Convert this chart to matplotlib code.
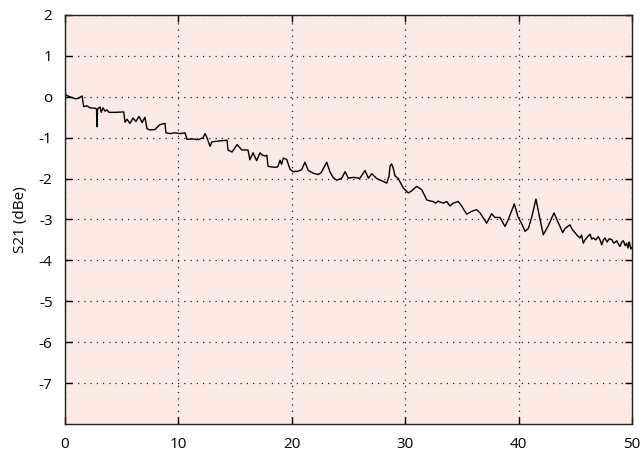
import matplotlib
matplotlib.use("Agg")
import matplotlib.pyplot as plt

freq = [0.03, 0.05, 0.26, 0.62, 0.97, 1.23, 1.5, 1.65, 1.94, 2.2, 2.65, 2.78, 2.82, 2.87,
        3.09, 3.2, 3.35, 3.53, 3.7, 3.88, 4.4, 5.18, 5.29, 5.47, 5.73, 6.0, 6.26, 6.53,
        6.8, 7.05, 7.23, 7.5, 7.94, 8.2, 8.38, 8.82, 8.9, 9.26, 9.7, 10.14, 10.58, 10.76,
        11.29, 11.73, 12.17, 12.35, 12.52, 12.79, 12.96, 13.67, 14.29, 14.37, 14.73,
        15.17, 15.6, 16.14, 16.3, 16.58, 16.9, 17.2, 17.37, 17.64, 17.8, 17.9, 18.34,
        18.7, 18.78, 18.96, 19.1, 19.25, 19.55, 19.7, 19.84, 20.1, 20.55, 20.87, 21.16,
        21.45, 21.9, 22.34, 22.6, 23.08, 23.37, 23.66, 23.96, 24.4, 24.7, 24.98, 25.42,
        26.0, 26.46, 26.75, 27.05, 27.49, 28.07, 28.37, 28.57, 28.66, 28.8, 28.95, 29.1,
        29.39, 29.83, 30.27, 30.57, 31.01, 31.46, 31.9, 32.1, 32.45, 32.7, 32.9, 33.07,
        33.36, 33.66, 33.95, 34.24, 34.68, 34.98, 35.42, 35.86, 36.3, 36.6, 37.18,
        37.62, 37.92, 38.36, 38.8, 39.09, 39.62, 39.97, 40.27, 40.56, 40.86, 41.15,
        41.53, 41.89, 42.18, 42.33, 42.62, 43.12, 43.5, 43.89, 44.09, 44.53, 44.75,
        45.0, 45.2, 45.41, 45.55, 45.71, 45.85, 46.0, 46.15, 46.3, 46.45, 46.59, 46.8,
        47.03, 47.18, 47.33, 47.48, 47.62, 47.8, 48.0, 48.21, 48.4, 48.65, 48.8, 48.94,
        49.1, 49.24, 49.4, 49.53, 49.65, 49.75, 49.82, 49.9, 50.0]
s21 = [0.17, 0.05, 0.02, -0.02, -0.05, -0.03, 0.02, -0.24, -0.22, -0.27, -0.28, -0.3,
       -0.73, -0.3, -0.25, -0.38, -0.27, -0.35, -0.32, -0.38, -0.38, -0.37, -0.62,
       -0.55, -0.65, -0.52, -0.6, -0.48, -0.63, -0.5, -0.78, -0.81, -0.8, -0.72, -0.68,
       -0.65, -0.88, -0.9, -0.88, -0.9, -0.88, -1.04, -1.03, -1.05, -1.0, -0.9, -1.0,
       -1.21, -1.1, -1.08, -1.06, -1.3, -1.35, -1.17, -1.3, -1.3, -1.54, -1.37, -1.56,
       -1.37, -1.42, -1.45, -1.43, -1.7, -1.72, -1.72, -1.7, -1.55, -1.65, -1.5, -1.53,
       -1.65, -1.77, -1.83, -1.82, -1.78, -1.6, -1.8, -1.87, -1.9, -1.85, -1.6, -1.84,
       -1.98, -2.04, -1.99, -1.83, -1.99, -1.97, -1.99, -1.8, -1.99, -1.88, -2.0, -2.07,
       -2.11, -1.95, -1.7, -1.64, -1.75, -1.93, -2.0, -2.23, -2.35, -2.3, -2.19, -2.27,
       -2.52, -2.54, -2.56, -2.6, -2.55, -2.57, -2.6, -2.56, -2.67, -2.6, -2.56, -2.67,
       -2.87, -2.8, -2.76, -2.84, -3.09, -2.86, -2.95, -2.95, -3.17, -3.0, -2.62,
       -2.95, -3.1, -3.29, -3.22, -2.95, -2.5, -3.0, -3.37, -3.3, -3.15, -2.84, -3.08,
       -3.32, -3.22, -3.13, -3.25, -3.33, -3.4, -3.45, -3.38, -3.58, -3.5, -3.45,
       -3.4, -3.36, -3.48, -3.45, -3.5, -3.42, -3.5, -3.62, -3.5, -3.45, -3.55, -3.47,
       -3.49, -3.58, -3.52, -3.6, -3.66, -3.55, -3.52, -3.64, -3.58, -3.7, -3.55,
       -3.62, -3.72, -3.68]

xticks = [0, 10, 20, 30, 40, 50]
yticks = [2, 1, 0, -1, -2, -3, -4, -5, -6, -7]
yticklabels = ["2", "1", "o", "-1", "-2", "-3", "-4", "-5", "-6", "-7"]

plt.rcParams['font.family'] = ['Open Sans', 'DejaVu Sans']

fig = plt.figure(figsize=(6.41, 4.54), dpi=100)
ax = fig.add_axes([65/641, 30/454, 567/641, 409/454])
ax.set_facecolor('#fbeae6')
ax.plot(freq, s21, color='black', lw=1.0)
ax.set_xlim(0, 50)
ax.set_ylim(-8, 2)
ax.set_xticks(xticks)
ax.set_yticks(yticks)
ax.set_yticklabels(yticklabels)
ax.tick_params(direction='in', length=5, width=1, top=True, right=True,
               labelsize=11, pad=9, colors='black')
ax.grid(True, color='#222222', linestyle=(0, (1, 4)), lw=0.9)
for s in ax.spines.values():
    s.set_linewidth(1.0)
    s.set_color('#222222')
ax.set_ylabel("S21 (dBe)", fontsize=11, labelpad=8)
fig.savefig("out.png", dpi=100)
